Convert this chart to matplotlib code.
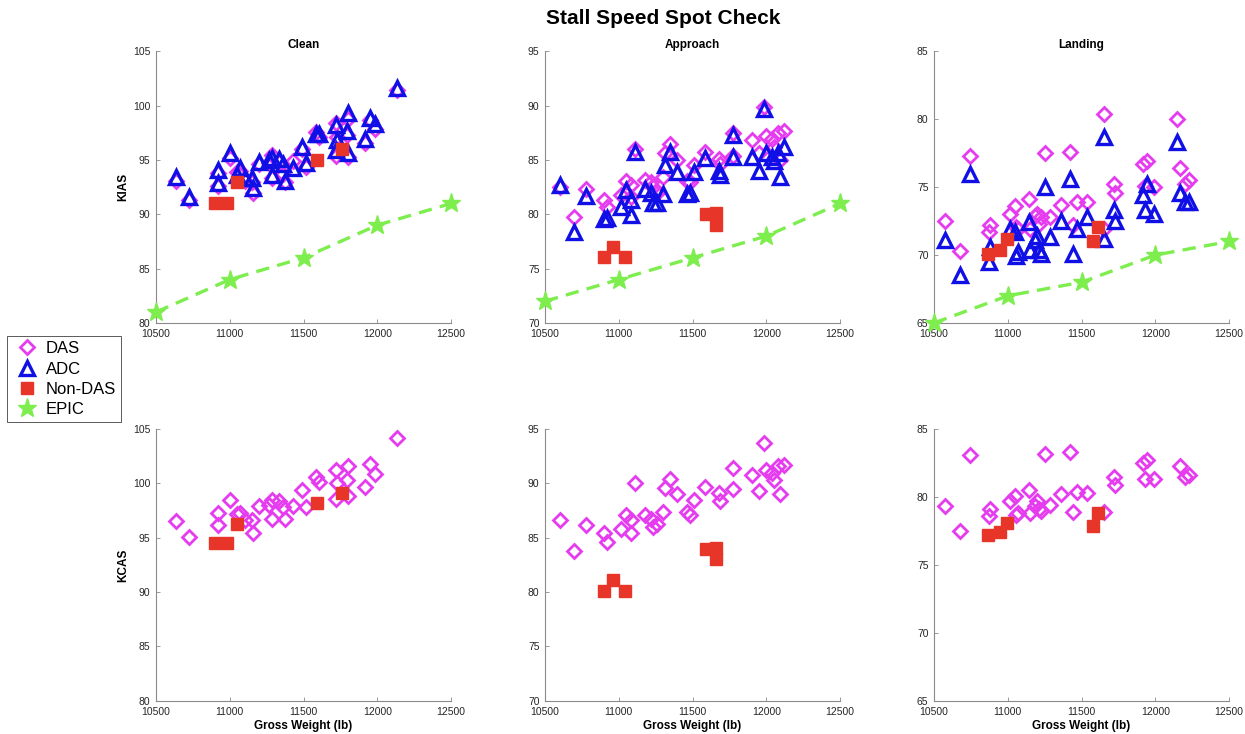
import matplotlib
matplotlib.use("Agg")
import matplotlib.pyplot as plt

plt.rcParams['font.family'] = ['Liberation Sans', 'DejaVu Sans']

# weights shared by DAS / ADC points for each configuration
clean_w = [10633, 10724, 10918, 10918, 11002, 11070, 11047, 11104, 11150, 11160, 11199, 11269, 11285, 11283, 11335, 11360,
           11376, 11430, 11493, 11514, 11584, 11606, 11721, 11726, 11719, 11799, 11794, 11799, 11916, 11948, 11982, 12133]
clean_adc = [93.4, 91.6, 94.1, 92.9, 95.6, 94.3, 93.6, 93.3, 93.3, 92.4, 94.8, 95.0, 95.2, 93.6, 95.1, 94.6,
             93.1, 94.3, 96.2, 94.7, 97.4, 97.4, 98.2, 96.8, 95.9, 99.3, 97.7, 95.6, 96.9, 98.9, 98.3, 101.6]
clean_das = [93.1, 91.3, 93.8, 92.6, 95.2, 94.0, 93.9, 93.1, 93.0, 92.0, 94.6, 94.7, 95.5, 93.3, 94.8, 93.7,
             93.0, 94.9, 96.0, 94.4, 97.6, 97.1, 98.4, 97.1, 95.4, 98.8, 97.3, 95.3, 96.6, 98.7, 97.9, 101.4]
clean_das_kcas = [96.5, 95.1, 97.3, 96.2, 98.5, 97.3, 97.2, 96.6, 96.6, 95.4, 97.9, 98.0, 98.5, 96.7, 98.4, 97.8,
                  96.7, 97.9, 99.4, 97.8, 100.6, 100.1, 101.2, 100.0, 98.6, 101.6, 100.3, 98.8, 99.7, 101.8, 100.9, 104.2]

appr_w = [10599, 10699, 10780, 10902, 10922, 11013, 11051, 11085, 11085, 11110, 11175, 11215, 11233, 11256, 11298, 11316,
          11344, 11397, 11462, 11482, 11507, 11581, 11681, 11687, 11771, 11771, 11904, 11950, 11981, 11995, 12035, 12055,
          12079, 12090, 12121]
appr_adc = [82.7, 78.4, 81.7, 79.6, 79.7, 80.7, 82.2, 81.3, 79.9, 85.7, 82.3, 82.0, 81.0, 81.0, 81.9, 84.5,
            85.7, 83.9, 81.9, 82.0, 83.9, 85.2, 84.0, 83.6, 87.3, 85.3, 85.3, 84.0, 89.7, 85.6, 85.3, 84.9,
            85.6, 83.4, 86.2]
appr_das = [82.5, 79.8, 82.3, 81.3, 80.7, 81.8, 83.1, 82.7, 81.6, 86.0, 83.2, 83.0, 82.5, 82.0, 83.4, 85.6,
            86.5, 85.0, 83.1, 83.0, 84.5, 85.7, 85.1, 84.6, 87.5, 85.4, 86.8, 85.6, 89.9, 87.2, 86.9, 86.2,
            87.5, 85.0, 87.7]
appr_das_kcas = [86.6, 83.8, 86.2, 85.4, 84.6, 85.8, 87.1, 86.6, 85.4, 90.0, 87.1, 86.7, 86.0, 86.3, 87.4, 89.6,
                 90.4, 89.0, 87.4, 87.1, 88.5, 89.7, 89.1, 88.4, 91.4, 89.5, 90.8, 89.3, 93.7, 91.2, 91.0, 90.3,
                 91.6, 89.0, 91.7]

land_w = [10572, 10674, 10747, 10876, 10882, 11018, 11052, 11059, 11068, 11142, 11149, 11183, 11199, 11213, 11228, 11255,
          11285, 11360, 11423, 11443, 11468, 11538, 11652, 11652, 11722, 11724, 11920, 11941, 11928, 11991, 12145, 12168,
          12200, 12230]
land_adc = [71.1, 68.5, 76.0, 69.5, 70.6, 71.9, 71.7, 69.9, 70.2, 72.4, 70.4, 71.1, 71.4, 70.4, 70.1, 75.0,
            71.3, 72.5, 75.6, 70.1, 71.9, 72.8, 78.7, 71.2, 73.3, 72.5, 74.4, 75.2, 73.3, 73.0, 78.3, 74.6,
            73.9, 73.9]
land_das = [72.5, 70.3, 77.3, 71.7, 72.2, 73.0, 73.6, 72.1, 71.9, 74.1, 71.9, 72.9, 73.0, 72.3, 72.8, 77.5,
            72.8, 73.7, 77.6, 72.2, 73.9, 73.9, 80.4, 71.9, 75.2, 74.6, 76.7, 76.9, 75.1, 75.0, 80.0, 76.4,
            75.2, 75.5]
land_das_kcas = [79.3, 77.5, 83.1, 78.6, 79.1, 79.7, 80.1, 78.7, 78.8, 80.5, 78.8, 79.3, 79.7, 79.1, 79.0, 83.2,
                 79.4, 80.2, 83.3, 78.9, 80.4, 80.3, 86.9, 78.9, 81.5, 80.9, 82.5, 82.7, 81.3, 81.3, 86.5, 82.3,
                 81.5, 81.6]

# Non-DAS aircraft
clean_nd_w = [10900, 10980, 11050, 11590, 11763]
clean_nd_kias = [91.0, 91.0, 93.0, 95.0, 96.0]
clean_nd_kcas = [94.5, 94.5, 96.3, 98.2, 99.1]
appr_nd_w = [10902, 10958, 11040, 11590, 11660, 11656]
appr_nd_kias = [76.1, 77.0, 76.1, 80.0, 80.1, 79.0]
appr_nd_kcas = [80.1, 81.1, 80.1, 84.0, 84.1, 83.0]
land_nd_w = [10867, 10950, 10995, 11577, 11613]
land_nd_kias = [70.1, 70.4, 71.2, 71.0, 72.1]
land_nd_kcas = [77.2, 77.4, 78.1, 77.9, 78.8]

# EPIC book values
epic_w = [10500, 11000, 11500, 12000, 12500]
clean_epic = [81, 84, 86, 89, 91]
appr_epic = [72, 74, 76, 78, 81]
land_epic = [65, 67, 68, 70, 71]

titles = ["Clean", "Approach", "Landing"]
ylims = [(80, 105), (70, 95), (65, 85)]

das_c = '#E63CF0'
adc_c = '#1010E6'
nd_c = '#E8352A'
epic_c = '#7DEE4E'

configs = [
    (clean_w, clean_das, clean_adc, clean_das_kcas, clean_nd_w, clean_nd_kias, clean_nd_kcas, clean_epic),
    (appr_w, appr_das, appr_adc, appr_das_kcas, appr_nd_w, appr_nd_kias, appr_nd_kcas, appr_epic),
    (land_w, land_das, land_adc, land_das_kcas, land_nd_w, land_nd_kias, land_nd_kcas, land_epic),
]

fig = plt.figure(figsize=(12.45, 7.34), dpi=100)
lefts = [0.1253, 0.4378, 0.7502]
width = 0.237
bottoms = [0.560, 0.0454]
height = 0.370


def style(ax, ylim):
    ax.set_xlim(10500, 12500)
    ax.set_ylim(*ylim)
    ax.set_xticks([10500, 11000, 11500, 12000, 12500])
    ax.set_yticks(range(ylim[0], ylim[1] + 1, 5))
    for s in ['top', 'right']:
        ax.spines[s].set_visible(False)
    for s in ['left', 'bottom']:
        ax.spines[s].set_color('#8a8a8a')
        ax.spines[s].set_linewidth(0.8)
    ax.tick_params(direction='in', length=3, width=0.6, colors='#8a8a8a', labelcolor='#262626', labelsize=7.5)
    ax.tick_params(axis='x', pad=4.5)
    ax.tick_params(axis='y', pad=4)


handles = None
for j, (w, das, adc, kcas, ndw, ndi, ndc, epic) in enumerate(configs):
    ax = fig.add_axes([lefts[j], bottoms[0], width, height])
    h1, = ax.plot(w, das, 'D', ms=7.3, mfc='none', mec=das_c, mew=2.0, ls='none', label='DAS')
    h2, = ax.plot(w, adc, '^', ms=10, mfc='none', mec=adc_c, mew=2.4, ls='none', label='ADC')
    h3, = ax.plot(ndw, ndi, 's', ms=8.5, mfc=nd_c, mec=nd_c, ls='none', label='Non-DAS')
    h4, = ax.plot(epic_w, epic, '--*', color=epic_c, ms=14, lw=2.4, dashes=(4, 2.5), clip_on=False, zorder=5, label='EPIC')
    style(ax, ylims[j])
    ax.set_title(titles[j], fontsize=8.5, fontweight='bold', pad=2)
    if j == 0:
        ax.set_ylabel('KIAS', fontsize=8.5, fontweight='bold', labelpad=3)
        handles = [h1, h2, h3, h4]

    ax = fig.add_axes([lefts[j], bottoms[1], width, height])
    ax.plot(w, kcas, 'D', ms=7.3, mfc='none', mec=das_c, mew=2.0, ls='none')
    ax.plot(ndw, ndc, 's', ms=8.5, mfc=nd_c, mec=nd_c, ls='none')
    style(ax, ylims[j])
    ax.set_xlabel('Gross Weight (lb)', fontsize=8.5, fontweight='bold', labelpad=2)
    if j == 0:
        ax.set_ylabel('KCAS', fontsize=8.5, fontweight='bold', labelpad=3)

fig.suptitle('Stall Speed Spot Check', x=0.533, y=0.975, va='center', fontsize=15, fontweight='bold')

leg = fig.legend(handles, ['DAS', 'ADC', 'Non-DAS', 'EPIC'], loc='upper left', bbox_to_anchor=(0.006, 0.542),
                 fontsize=12, fancybox=False, edgecolor='#404040', framealpha=1, borderpad=0.3,
                 labelspacing=0.32, handletextpad=0.3, handlelength=1.7, borderaxespad=0)
leg.get_frame().set_linewidth(0.6)
for lh in leg.legend_handles:
    lh.set_linestyle('none')

fig.savefig('out.png', dpi=100)
